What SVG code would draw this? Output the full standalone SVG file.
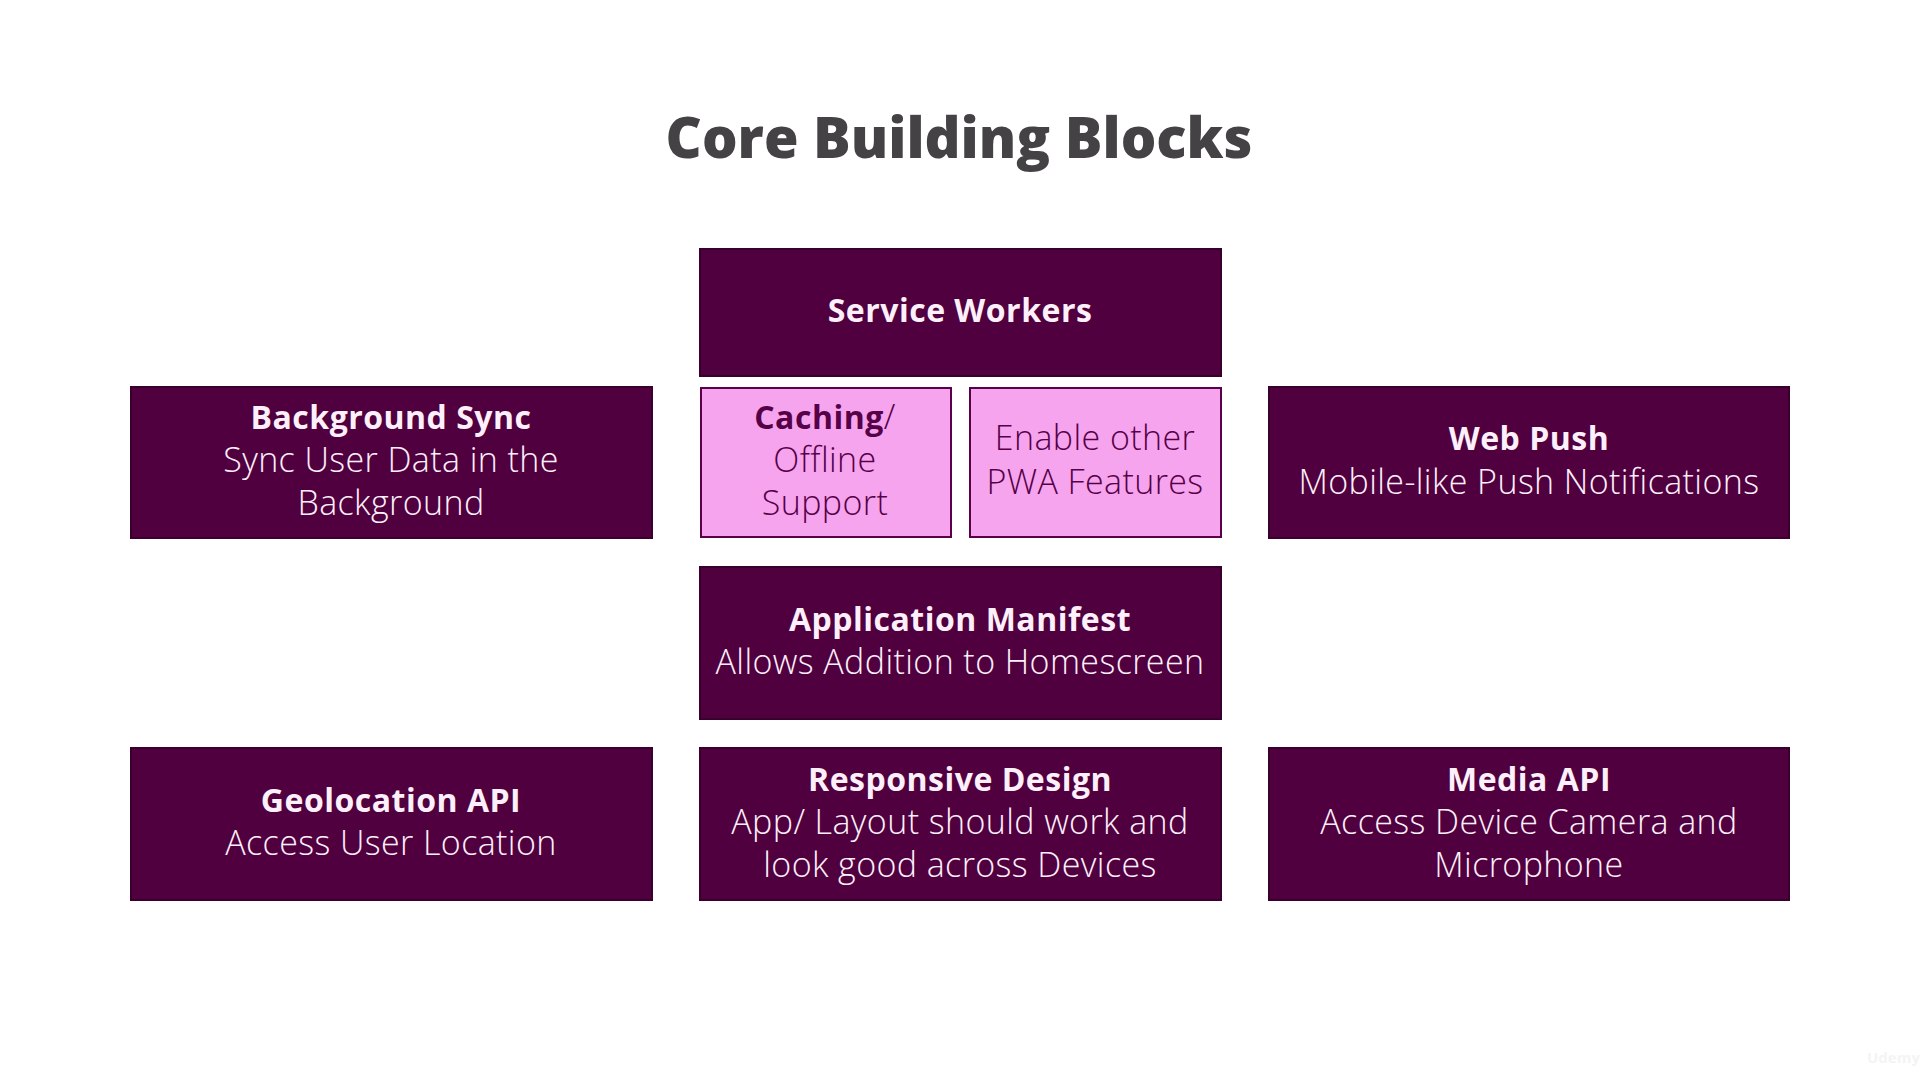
<svg xmlns="http://www.w3.org/2000/svg" width="1920" height="1080" viewBox="0 0 1920 1080">
<style>
.bg{fill:#ffffff}
.dark{fill:#51003f;stroke:#3a002d;stroke-width:2}
.pink{fill:#f7a4ee;stroke:#5a0048;stroke-width:2}
text{font-family:"Open Sans","Noto Sans","Liberation Sans",sans-serif;text-anchor:middle}
.title{font-family:"Open Sans","Noto Sans",sans-serif;font-weight:800;font-size:56px;fill:#444245}
.h{font-weight:700;font-size:32px;letter-spacing:0.5px;fill:#fdf0fa}
.t{font-weight:300;font-size:34px;letter-spacing:0.4px;fill:#fdf0fa}
.hp{font-weight:700;font-size:32px;letter-spacing:0.5px;fill:#560047}
.tp{font-weight:300;font-size:34px;letter-spacing:0.4px;fill:#560047}
.wm{font-family:"Open Sans",sans-serif;font-weight:700;font-size:15px;fill:#f4f4f4;text-anchor:start}
</style>
<rect class="bg" x="0" y="0" width="1920" height="1080"/>
<text class="title" x="959" y="158">Core Building Blocks</text>
<g id="connectors"></g>
<g id="service-workers">
<rect class="dark" x="700" y="249" width="521" height="127"/>
<text class="h" x="960" y="322">Service Workers</text>
</g>
<g id="background-sync">
<rect class="dark" x="131" y="387" width="521" height="151"/>
<text class="h" x="391" y="429">Background Sync</text>
<text class="t" x="391" y="472">Sync User Data in the</text>
<text class="t" x="391" y="515">Background</text>
</g>
<g id="caching">
<rect class="pink" x="701" y="388" width="250" height="149"/>
<text class="hp" x="825" y="429">Caching<tspan class="tp">/</tspan></text>
<text class="tp" x="825" y="472">Offline</text>
<text class="tp" x="825" y="515">Support</text>
</g>
<g id="enable-other">
<rect class="pink" x="970" y="388" width="251" height="149"/>
<text class="tp" x="1095" y="450">Enable other</text>
<text class="tp" x="1095" y="494">PWA Features</text>
</g>
<g id="web-push">
<rect class="dark" x="1269" y="387" width="520" height="151"/>
<text class="h" x="1529" y="450">Web Push</text>
<text class="t" x="1529" y="494">Mobile-like Push Notifications</text>
</g>
<g id="app-manifest">
<rect class="dark" x="700" y="567" width="521" height="152"/>
<text class="h" x="960" y="631">Application Manifest</text>
<text class="t" x="960" y="674">Allows Addition to Homescreen</text>
</g>
<g id="geolocation">
<rect class="dark" x="131" y="748" width="521" height="152"/>
<text class="h" x="391" y="812">Geolocation API</text>
<text class="t" x="391" y="855">Access User Location</text>
</g>
<g id="responsive">
<rect class="dark" x="700" y="748" width="521" height="152"/>
<text class="h" x="960" y="791">Responsive Design</text>
<text class="t" x="960" y="834">App/ Layout should work and</text>
<text class="t" x="960" y="877">look good across Devices</text>
</g>
<g id="media">
<rect class="dark" x="1269" y="748" width="520" height="152"/>
<text class="h" x="1529" y="791">Media API</text>
<text class="t" x="1529" y="834">Access Device Camera and</text>
<text class="t" x="1529" y="877">Microphone</text>
</g>
<text class="wm" x="1867" y="1063">Udemy</text>
</svg>
